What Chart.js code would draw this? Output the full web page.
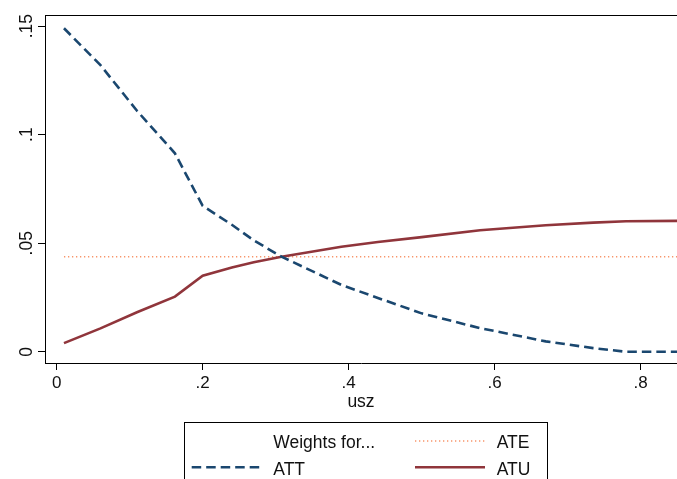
<!DOCTYPE html>
<html>
<head>
<meta charset="utf-8">
<script src="https://cdn.jsdelivr.net/npm/chart.js@4.4.1/dist/chart.umd.min.js"></script>
<style>
html, body { margin: 0; padding: 0; background: #fff; }
canvas { display: block; }
</style>
</head>
<body>
<canvas id="weightsChart" width="677" height="479"></canvas>
<script>
// values
const usz = [0.01, 0.06, 0.11, 0.162, 0.2, 0.24, 0.27, 0.308, 0.39, 0.44, 0.5, 0.58, 0.67, 0.735, 0.78, 0.85];
const attWeights = [0.149, 0.132, 0.111, 0.0914, 0.0672, 0.0585, 0.0513, 0.0438, 0.0308, 0.0248, 0.0177, 0.0109, 0.0048, 0.0017, 0.0, 0.0];
const atuWeights = [0.004, 0.0108, 0.0182, 0.0254, 0.035, 0.0388, 0.0412, 0.0438, 0.0484, 0.0506, 0.0528, 0.056, 0.0583, 0.0595, 0.0601, 0.0603];
const ateUsz = [0.01, 0.85];
const ateWeights = [0.0438, 0.0438];
const xTicks = [0, 0.2, 0.4, 0.6, 0.8];
const yTicks = [0, 0.05, 0.1, 0.15];
const legendTitle = 'Weights for...';
const xTitle = 'usz';

const FONT = "'Liberation Sans', Arial, sans-serif";

function stataLabel(v) {
    if (Math.abs(v) < 1e-9) return '0';
    return String(+v.toFixed(2)).replace(/^0\./, '.').replace(/^-0\./, '-.');
}

function toPoints(xs, ys) {
    return xs.map((x, i) => ({ x: x, y: ys[i] }));
}

const stataFrame = {
    id: 'stataFrame',
    afterDraw(chart) {
        const ctx = chart.ctx;
        const area = chart.chartArea;
        const yScale = chart.scales.y;
        ctx.save();
        // top edge of the plot region
        ctx.strokeStyle = '#000';
        ctx.lineWidth = 1;
        ctx.beginPath();
        ctx.moveTo(area.left, Math.round(area.top) + 0.5);
        ctx.lineTo(area.right, Math.round(area.top) + 0.5);
        ctx.stroke();

        // rotated y tick labels
        ctx.fillStyle = '#111';
        ctx.font = '17.5px ' + FONT;
        ctx.textAlign = 'center';
        ctx.textBaseline = 'alphabetic';
        yScale.ticks.forEach(t => {
            const py = yScale.getPixelForValue(t.value);
            ctx.save();
            ctx.translate(31.7, py);
            ctx.rotate(-Math.PI / 2);
            ctx.fillText(stataLabel(t.value), 0, 0);
            ctx.restore();
        });

        // legend box
        ctx.strokeStyle = '#000';
        ctx.lineWidth = 1;
        ctx.strokeRect(184.5, 422.5, 363, 70);
        const ds = chart.data.datasets;
        const items = [
            { label: legendTitle, set: null, col: 0, row: 0 },
            { label: ds[2].label, set: ds[2], col: 1, row: 0 },
            { label: ds[0].label, set: ds[0], col: 0, row: 1 },
            { label: ds[1].label, set: ds[1], col: 1, row: 1 }
        ];
        const keyX = [191.7, 415];
        const textX = [273.3, 496.7];
        const rowY = [441, 467.3];
        ctx.textAlign = 'left';
        items.forEach(it => {
            const ky = rowY[it.row];
            if (it.set) {
                ctx.save();
                ctx.strokeStyle = it.set.borderColor;
                ctx.lineWidth = it.set.borderWidth;
                ctx.setLineDash(it.set.borderDash || []);
                ctx.beginPath();
                ctx.moveTo(keyX[it.col], ky);
                ctx.lineTo(keyX[it.col] + 70, ky);
                ctx.stroke();
                ctx.restore();
            }
            ctx.fillStyle = '#111';
            ctx.fillText(it.label, textX[it.col], ky + 7.3);
        });
        ctx.restore();
    }
};

new Chart(document.getElementById('weightsChart'), {
    type: 'scatter',
    data: {
        datasets: [{
            label: 'ATT',
            data: toPoints(usz, attWeights),
            showLine: true,
            borderColor: '#1a476f',
            borderWidth: 2.6,
            borderDash: [9.5, 5],
            pointRadius: 0,
            fill: false
        }, {
            label: 'ATU',
            data: toPoints(usz, atuWeights),
            showLine: true,
            borderColor: '#90353b',
            borderWidth: 2.6,
            pointRadius: 0,
            fill: false
        }, {
            label: 'ATE',
            data: toPoints(ateUsz, ateWeights),
            showLine: true,
            borderColor: '#f8956a',
            borderWidth: 1.4,
            borderDash: [1.3, 2.7],
            pointRadius: 0,
            fill: false
        }]
    },
    options: {
        responsive: false,
        animation: false,
        devicePixelRatio: 1,
        layout: { padding: { top: 15, left: 0, right: 0, bottom: 0 } },
        plugins: {
            legend: { display: false },
            tooltip: { enabled: false }
        },
        scales: {
            x: {
                type: 'linear',
                min: -0.016,
                max: 0.8498,
                afterBuildTicks: s => { s.ticks = xTicks.map(v => ({ value: v })); },
                afterFit: s => { s.height = 116; },
                border: { color: '#000', width: 1 },
                grid: { drawOnChartArea: false, color: '#000', tickLength: 7 },
                ticks: {
                    color: '#111',
                    font: { family: FONT, size: 17 },
                    padding: 3.5,
                    maxRotation: 0,
                    callback: v => stataLabel(v)
                },
                title: {
                    display: true,
                    text: xTitle,
                    color: '#111',
                    font: { family: FONT, size: 17.5 },
                    padding: { top: 0, bottom: 66 }
                }
            },
            y: {
                type: 'linear',
                min: -0.00516,
                max: 0.1551,
                afterBuildTicks: s => { s.ticks = yTicks.map(v => ({ value: v })); },
                afterFit: s => { s.width = 45; },
                border: { color: '#000', width: 1 },
                grid: { drawOnChartArea: false, color: '#000', tickLength: 7 },
                ticks: { display: false }
            }
        }
    },
    plugins: [stataFrame]
});
</script>
</body>
</html>
